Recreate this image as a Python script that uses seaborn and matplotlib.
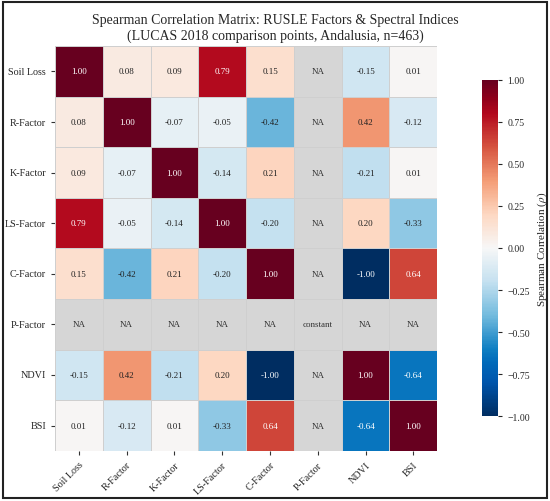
import numpy as np
import pandas as pd
import matplotlib as mpl
mpl.use("Agg")
import matplotlib.pyplot as plt
from matplotlib.colors import ListedColormap, rgb_to_hsv, hsv_to_rgb
from matplotlib.patches import Rectangle
import seaborn as sns

# Data
labels = ["Soil Loss", "R-Factor", "K-Factor", "LS-Factor", "C-Factor", "P-Factor", "NDVI", "BSI"]
na = np.nan
soil_loss = [1.00, 0.08, 0.09, 0.79, 0.15, na, -0.15, 0.01]
r_factor = [0.08, 1.00, -0.07, -0.05, -0.42, na, 0.42, -0.12]
k_factor = [0.09, -0.07, 1.00, -0.14, 0.21, na, -0.21, 0.01]
ls_factor = [0.79, -0.05, -0.14, 1.00, -0.20, na, 0.20, -0.33]
c_factor = [0.15, -0.42, 0.21, -0.20, 1.00, na, -1.00, 0.64]
p_factor = [na, na, na, na, na, na, na, na]
ndvi = [-0.15, 0.42, -0.21, 0.20, -1.00, na, 1.00, -0.64]
bsi = [0.01, -0.12, 0.01, -0.33, 0.64, na, -0.64, 1.00]

corr = pd.DataFrame([soil_loss, r_factor, k_factor, ls_factor, c_factor, p_factor, ndvi, bsi],
                    index=labels, columns=labels)

# annotation text
annot = corr.map(lambda v: "NA" if pd.isna(v) else f"{v:.2f}")
annot.loc["P-Factor", "P-Factor"] = "constant"
is_na = corr.isna()

# RdBu_r with livelier blues
base = plt.get_cmap("RdBu_r")(np.linspace(0, 1, 256))[:, :3]
hsv = rgb_to_hsv(base)
boost = np.where(np.arange(256) < 128, 1.4, 1.1)
hsv[:, 1] = np.clip(hsv[:, 1] * boost, 0, 1)
cmap = ListedColormap(hsv_to_rgb(hsv))

sns.set_style("ticks")
plt.rcParams['font.family'] = ['Liberation Serif', 'DejaVu Serif']
plt.rcParams['mathtext.fontset'] = 'stix'

fig = plt.figure(figsize=(5.5, 5.02), dpi=100)
ax = fig.add_axes([0.1, 0.1, 0.695, 0.806])
cax = fig.add_axes([0.877, 0.169, 0.029, 0.67])

# gray NA cells underneath
sns.heatmap(is_na.astype(float), mask=~is_na, cmap=ListedColormap(["#d6d6d6"]),
            cbar=False, linewidths=0.6, linecolor="#cfcfcf", ax=ax)
sns.heatmap(corr, mask=is_na, cmap=cmap, vmin=-1, vmax=1, center=0,
            linewidths=0.6, linecolor="#cfcfcf", ax=ax, cbar_ax=cax,
            cbar_kws={'ticks': np.arange(-1, 1.01, 0.25)})

# annotations
for i in range(len(labels)):
    for j in range(len(labels)):
        v = corr.iloc[i, j]
        if pd.isna(v):
            col = "#333333"
        else:
            col = "white" if abs(v) > 0.5 else "#222222"
        ax.text(j + 0.5, i + 0.5, annot.iloc[i, j], ha="center", va="center",
                fontsize=6.5, color=col)

ax.set_xticks(np.arange(len(labels)) + 0.5)
ax.set_xticklabels(labels, rotation=45, ha="right", rotation_mode="anchor", fontsize=7.3)
ax.set_yticklabels(labels, rotation=0, fontsize=7.3)
ax.tick_params(axis="both", length=3, width=0.8, color="#333333")
sns.despine(ax=ax, left=True, bottom=True)

cb = ax.collections[1].colorbar
cb.outline.set_visible(False)
cb.ax.tick_params(labelsize=7, length=3, width=0.8)
cb.ax.set_yticklabels([f"{t:.2f}".replace("-", "\u2212") for t in np.arange(-1, 1.01, 0.25)])
cb.set_label(r"Spearman Correlation ($\rho$)", fontsize=8)

fig.suptitle("Spearman Correlation Matrix: RUSLE Factors & Spectral Indices\n(LUCAS 2018 comparison points, Andalusia, n=463)",
             fontsize=10, y=0.972, linespacing=1.2)

# figure frame
fig.patches.append(Rectangle((0.006, 0.006), 0.988, 0.988, transform=fig.transFigure,
                             fill=False, edgecolor="#222222", linewidth=1.5))

fig.savefig("out.png", dpi=100)
